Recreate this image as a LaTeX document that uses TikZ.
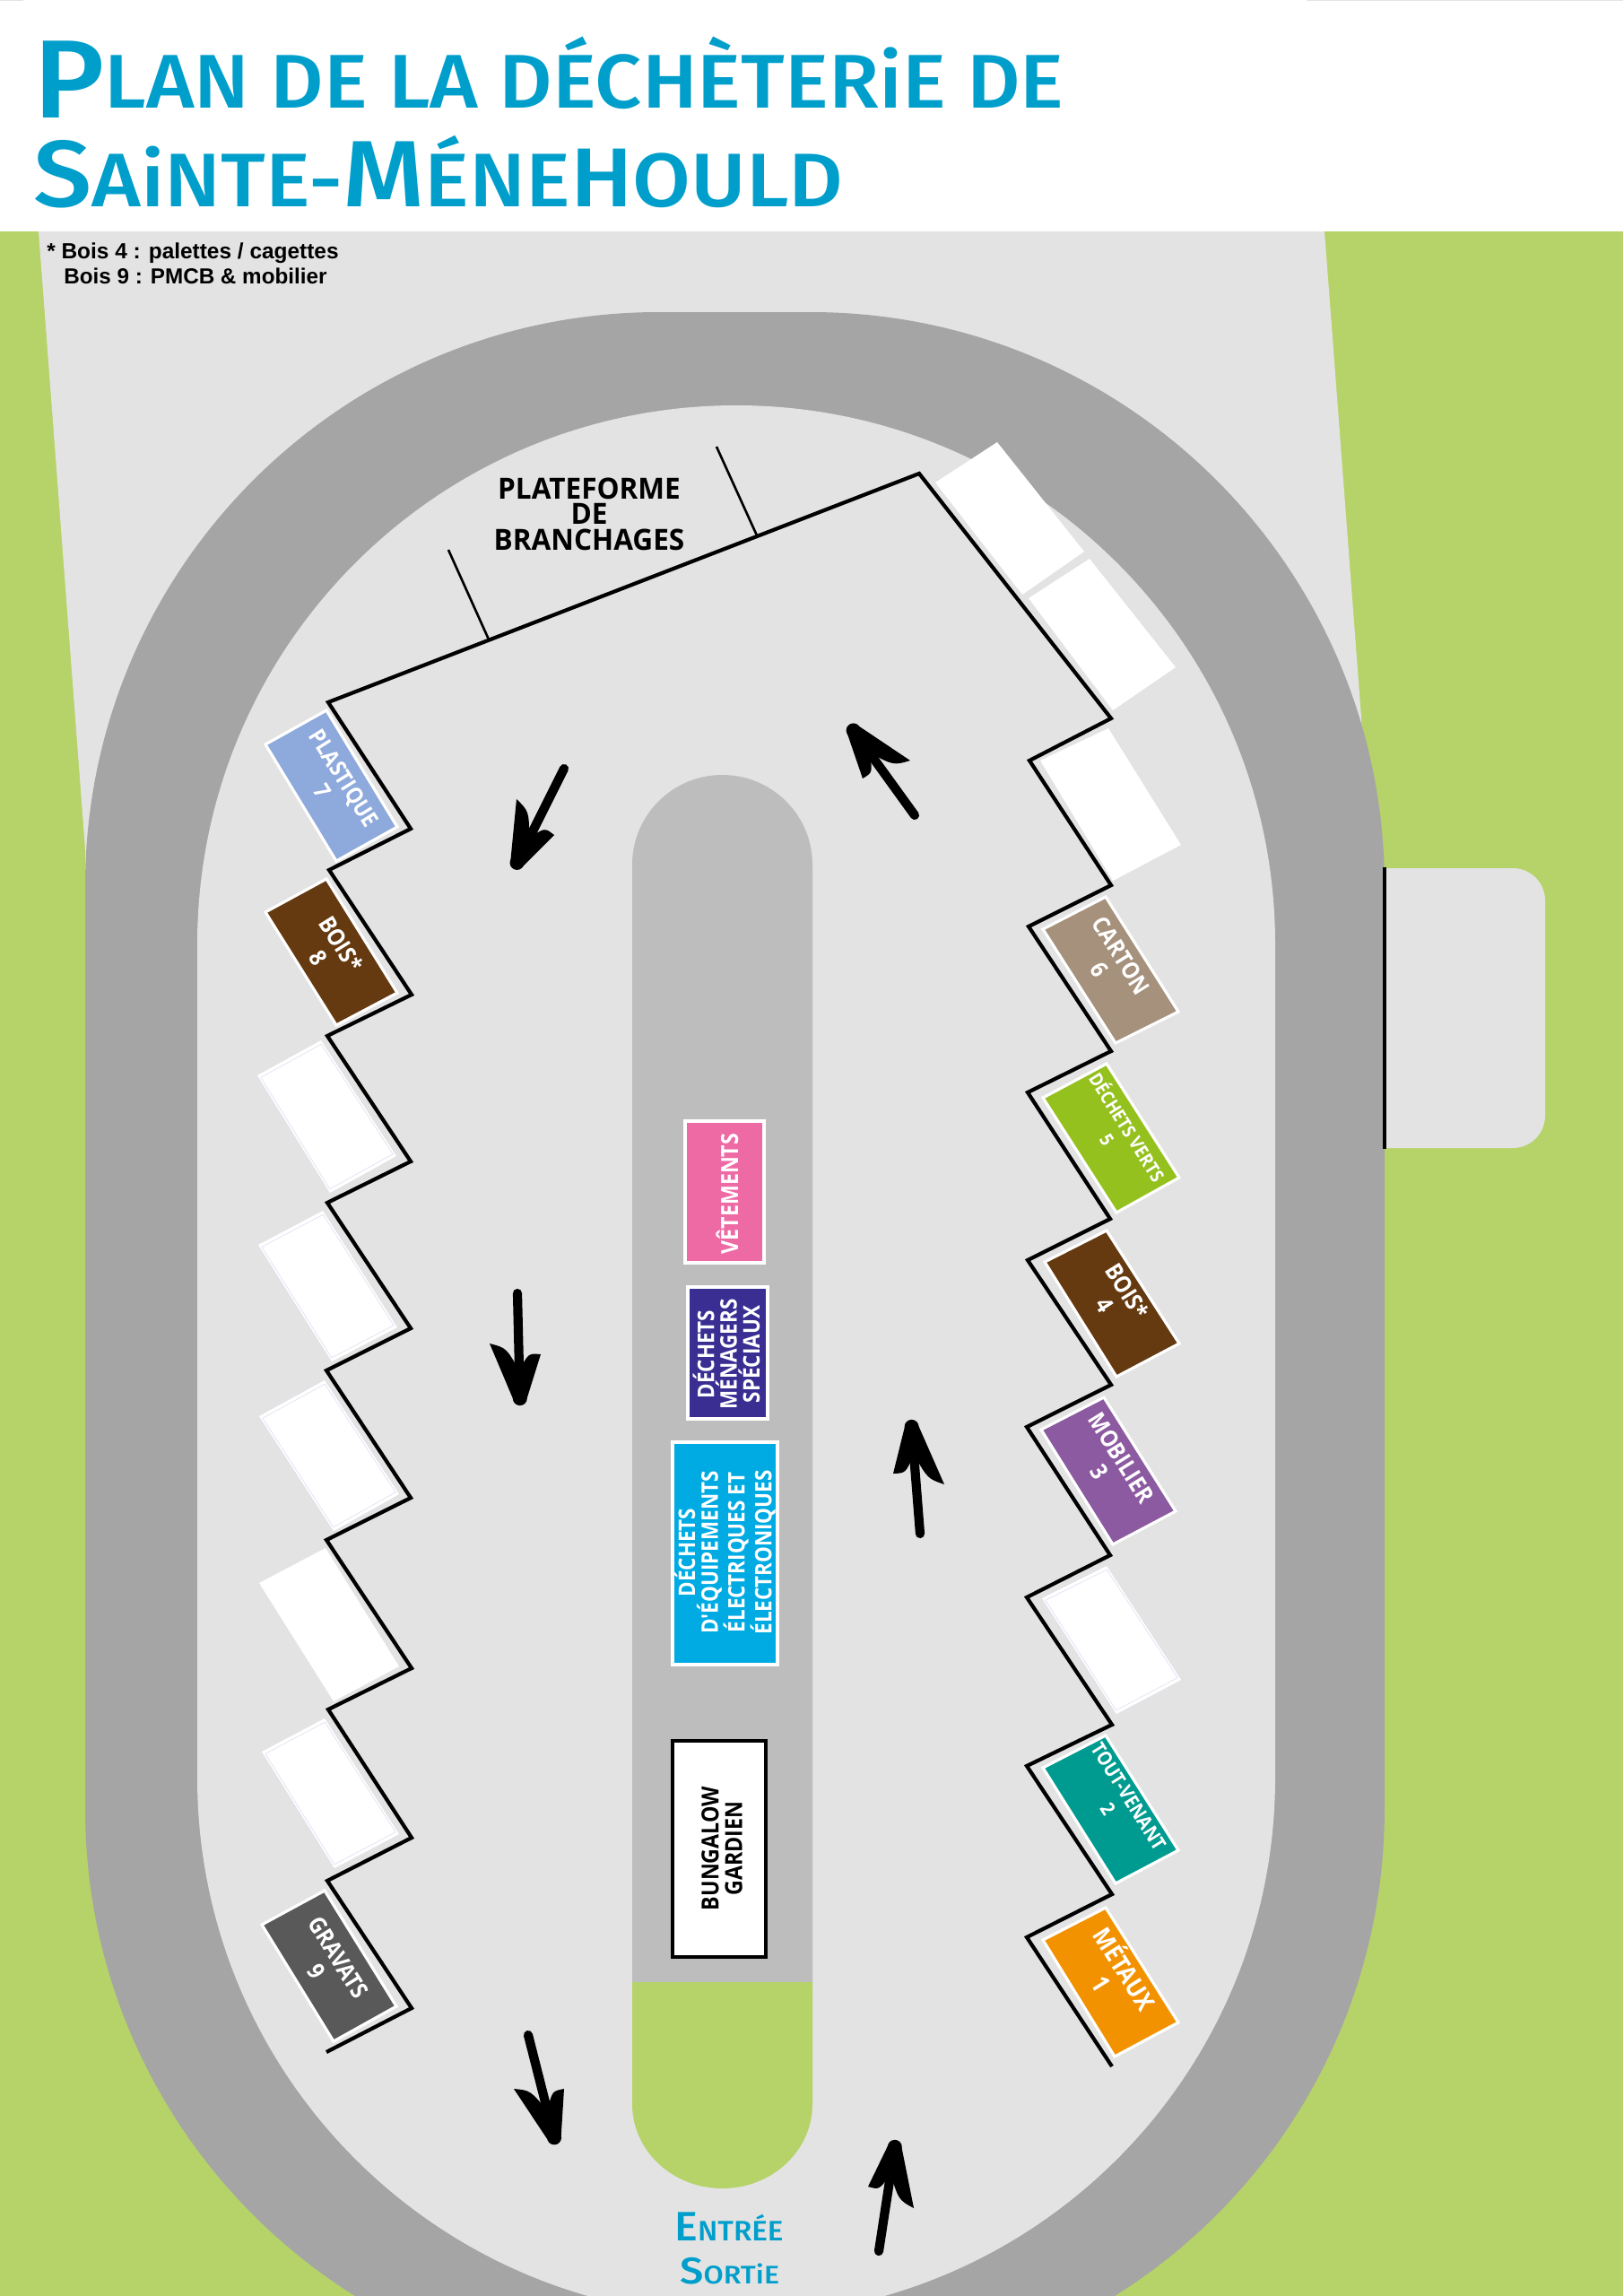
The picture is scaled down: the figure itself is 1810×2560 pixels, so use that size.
\documentclass[tikz,border=0pt]{standalone}
\usepackage{fontspec}
\usepackage{graphicx}
\usetikzlibrary{calc}
\setmainfont{Open Sans}
\newfontfamily\labfont[FakeStretch=0.88]{Open Sans}
\newfontfamily\platfont[FakeStretch=0.97]{Open Sans}
\newfontfamily\notefont{Liberation Sans}
\newfontfamily\titlefont[FakeStretch=0.7]{Fira Sans Medium}
\definecolor{grass}{HTML}{B6D369}
\definecolor{lightg}{HTML}{E3E3E3}
\definecolor{road}{HTML}{A5A5A5}
\definecolor{island}{HTML}{BDBDBD}
\definecolor{titleblue}{HTML}{009FCB}
\definecolor{cplast}{HTML}{8EA9DB}
\definecolor{cbois}{HTML}{663A10}
\definecolor{cgrav}{HTML}{595959}
\definecolor{ccart}{HTML}{A5917C}
\definecolor{cvert}{HTML}{95C11F}
\definecolor{cmob}{HTML}{8C5AA0}
\definecolor{cvenant}{HTML}{009B90}
\definecolor{cmet}{HTML}{F39200}
\definecolor{cvet}{HTML}{EE6AA5}
\definecolor{cdms}{HTML}{3A2E93}
\definecolor{cdeee}{HTML}{00ABE3}
\definecolor{faint}{HTML}{E4DFF5}
\tikzset{
  lab/.style={text=white,align=center,font=\labfont\bfseries\fontsize{#1}{#1}\selectfont,inner sep=0pt},
  rlab/.style={lab=#1,rotate=-58},
  vlab/.style={lab=#1,rotate=90},
  bay/.style={fill=#1,draw=white,line width=1.8pt,line join=miter},
  wall/.style={draw=black,line width=2.4pt,line join=miter},
  tick/.style={draw=black,line width=1.5pt},
  titletext/.style={text=titleblue,anchor=base west,inner sep=0pt,font=\titlefont},
}
\newcommand\smallT[1]{{\fontsize{50}{50}\selectfont #1}}
\newcommand\midT[1]{{\fontsize{55}{55}\selectfont #1}}
\newcommand\capT[1]{{\fontsize{62}{62}\selectfont #1}}
\newcommand\bigT[1]{{\fontsize{73}{73}\selectfont #1}}
\newcommand\blankbay[4]{%
  \fill[white] (#1) -- (#2) -- (#3) -- (#4) -- cycle;
  \draw[faint,line width=.4pt] ($(#1)!.025!(#3)$) -- ($(#2)!.025!(#4)$) -- ($(#3)!.025!(#1)$) -- ($(#4)!.025!(#2)$) -- cycle;
}
% tail, tip, barb on the arrow's right, barb on its left
\newcommand\harrow[4]{%
  \coordinate (Tl) at (#1); \coordinate (Ti) at (#2);
  \coordinate (Ba) at (#3); \coordinate (Bb) at (#4);
  \coordinate (Ce) at ($(Ti)!4.5pt!(Tl)$);
  \coordinate (Ne) at ($(Ti)!22pt!(Tl)$);
  \coordinate (Sa) at ($(Ce)!4.5pt!90:(Tl)$);
  \coordinate (Sb) at ($(Ce)!4.5pt!-90:(Tl)$);
  \draw[black,line width=5.8pt,line cap=round] (Tl) -- (Ne);
  \fill[black] (Sa) -- (Ba)
     .. controls ($($(Ba)!.5!(Ne)$)!6pt!(Tl)$) .. (Ne)
     .. controls ($($(Bb)!.5!(Ne)$)!6pt!(Tl)$) .. (Bb)
     -- (Sb) -- cycle;
  \fill[black] (Ce) circle[radius=.16cm];
}
\begin{document}
\begin{tikzpicture}[x=0.02cm,y=-0.02cm]
\useasboundingbox (0,0) rectangle (1810,2560);
\clip (0,0) rectangle (1810,2560);
% ground
\fill[grass] (0,0) rectangle (1810,2560);
\fill[lightg] (43,258) -- (1477,258) -- (1518,800) -- (1518,1100) -- (95,1100) -- (95,947) -- cycle;
\fill[lightg] (1544,968) [rounded corners=.72cm] -- (1723,968) -- (1723,1280) [sharp corners] -- (1544,1280) -- cycle;
% road and yard
\fill[road,rounded corners=12.8cm] (95,348) rectangle (1544,2657);
\fill[lightg,rounded corners=12.02cm] (220,452) rectangle (1422,2583);
% central island
\fill[island] (705,2212) -- (705,964) .. controls (705,909) and (750,864) .. (805.5,864) .. controls (861,864) and (906,909) .. (906,964) -- (906,2212) -- cycle;
\fill[grass] (705,2210) -- (906,2210) -- (906,2346) .. controls (906,2398) and (861,2440) .. (805.5,2440) .. controls (750,2440) and (705,2398) .. (705,2346) -- cycle;
% header
\fill[white] (0,0) rectangle (1810,258);
\fill[lightg] (1457,0) rectangle (1810,1);
\fill[lightg] (0,0) rectangle (26,1);
% bays, left
\draw[bay=cplast] (364,792) -- (296,830) -- (375,960) -- (443,922) -- cycle;
\draw[bay=cbois] (364,980) -- (296,1017) -- (375,1143) -- (443,1107) -- cycle;
\coordinate (a) at (358,1160); \coordinate (b) at (287,1199); \coordinate (c) at (368,1330); \coordinate (d) at (442,1289);
\blankbay{a}{b}{c}{d}
\coordinate (a) at (360,1350); \coordinate (b) at (288,1388); \coordinate (c) at (370,1518); \coordinate (d) at (443,1480);
\blankbay{a}{b}{c}{d}
\coordinate (a) at (362,1539); \coordinate (b) at (289,1579); \coordinate (c) at (372,1707); \coordinate (d) at (445,1666);
\blankbay{a}{b}{c}{d}
\fill[white] (363,1726) -- (289,1765) -- (372,1897) -- (445,1858) -- cycle;
\coordinate (a) at (362,1916); \coordinate (b) at (292,1953); \coordinate (c) at (373,2083); \coordinate (d) at (445,2045);
\blankbay{a}{b}{c}{d}
\draw[bay=cgrav] (362,2108) -- (292,2146) -- (372,2276) -- (442,2237) -- cycle;
% bays, right
\fill[white] (1112,493) -- (1043,538) -- (1140,663) -- (1209,615) -- cycle;
\fill[white] (1215,623) -- (1147,667) -- (1241,792) -- (1311,744) -- cycle;
\fill[white] (1236,812) -- (1160,848) -- (1241,982) -- (1317,942) -- cycle;
\draw[bay=ccart] (1233,1000) -- (1163,1036) -- (1244,1163) -- (1314,1128) -- cycle;
\draw[bay=cvert] (1234,1186) -- (1163,1224) -- (1245,1352) -- (1315,1313) -- cycle;
\draw[bay=cbois] (1234,1372) -- (1165,1407) -- (1245,1535) -- (1315,1498) -- cycle;
\draw[bay=cmob] (1231,1558) -- (1161,1594) -- (1241,1722) -- (1311,1685) -- cycle;
\coordinate (a) at (1234,1746); \coordinate (b) at (1162,1782); \coordinate (c) at (1245,1911); \coordinate (d) at (1317,1873);
\blankbay{a}{b}{c}{d}
\draw[bay=cvenant] (1233,1935) -- (1163,1971) -- (1244,2100) -- (1314,2063) -- cycle;
\draw[bay=cmet] (1233,2127) -- (1163,2163) -- (1243,2293) -- (1314,2255) -- cycle;
% wall
\draw[wall] (1240,2304) -- (1145,2160) -- (1240,2112) -- (1145,1969) -- (1240,1923) -- (1145,1781) -- (1238,1734) -- (1145,1591) -- (1239,1544) -- (1146,1405) -- (1238,1359) -- (1146,1218) -- (1239,1172) -- (1147,1033) -- (1239,987) -- (1148,848) -- (1239,801) -- (1025,528) -- (366,783) -- (458,924) -- (367,970) -- (459,1109) -- (365,1155) -- (458,1295) -- (365,1341) -- (458,1481) -- (364,1528) -- (458,1670) -- (364,1717) -- (459,1860) -- (366,1906) -- (459,2049) -- (365,2097) -- (459,2239) -- (364,2288);
\coordinate (t1a) at (500,613); \coordinate (t1b) at (545,713);
\coordinate (t2a) at (799,498); \coordinate (t2b) at (844,597);
\draw[tick] (t1a) -- (t1b);
\draw[tick] (t2a) -- (t2b);
\draw[black,line width=2.2pt] (1544,967) -- (1544,1281);
% central boxes
\draw[fill=cvet,draw=white,line width=1.8pt] (764,1250) rectangle (852,1408);
\draw[fill=cdms,draw=white,line width=1.8pt] (767,1435) rectangle (856,1582);
\draw[fill=cdeee,draw=white,line width=1.8pt] (750,1608) rectangle (867,1856);
\draw[fill=white,draw=black,line width=2pt] (750,1941) rectangle (854,2182);
% labels
\node[align=center,inner sep=0pt,font=\platfont\bfseries\fontsize{18.5}{18.5}\selectfont] (plat) at (657,573) {PLATEFORME\\[-2.2pt]DE\\[-2.2pt]BRANCHAGES};
\node[rlab=14.5] (plast) at (372,875) {PLASTIQUE\\[1.5pt]7};
\node[rlab=15] (bois8) at (368,1060) {BOIS*\\[1.5pt]8};
\node[rlab=15] (grav) at (365,2190) {GRAVATS\\[1.5pt]9};
\node[rlab=15] (cart) at (1238,1073) {CARTON\\[1.5pt]6};
\node[rlab=11.7] (vert) at (1247,1263) {DÉCHETS VERTS\\[3pt]5};
\node[rlab=15] (bois4) at (1245,1447) {BOIS*\\[1.5pt]4};
\node[rlab=15] (mob) at (1238,1633) {MOBILIER\\[1.5pt]3};
\node[rlab=12.5] (tout) at (1247,2010) {TOUT-VENANT\\[3pt]2};
\node[rlab=16] (met) at (1243,2202) {MÉTAUX\\[1.5pt]1};
\node[vlab=15] (vet) at (811,1331) {VÊTEMENTS};
\node[vlab=14.5] (dms) at (810,1510) {DÉCHETS\\MÉNAGERS\\SPÉCIAUX};
\node[vlab=14.5] (deee) at (808,1731) {DÉCHETS\\D'ÉQUIPEMENTS\\ÉLECTRIQUES ET\\ÉLECTRONIQUES};
\node[vlab=15,text=black] (bung) at (805,2061) {BUNGALOW\\GARDIEN};
% footnote
\node[anchor=base west,inner sep=0pt,font=\notefont\bfseries\fontsize{13.9}{14}\selectfont] (note1) at (52,288) {* Bois 4 : palettes / cagettes};
\node[anchor=base west,inner sep=0pt,font=\notefont\bfseries\fontsize{13.8}{14}\selectfont] (note2) at (71,316) {Bois 9 : PMCB \& mobilier};
% title
\node[titletext] (title1) at (37,120) {\resizebox*{654pt}{52pt}{\raisebox{-7pt}{\bigT{P}}\smallT{LAN DE LA DÉCHÈTERiE DE}}};
\node[titletext] (title2) at (37,230) {\resizebox*{514pt}{46pt}{\capT{S}\smallT{AiNTE-}\capT{M}\smallT{ÉNE}\midT{H}\smallT{OULD}}};
\node[titletext] (entree) at (752,2498) {\resizebox*{69pt}{18pt}{\bigT{E}\smallT{NTRÉE}}};
\node[titletext] (sortie) at (758,2546) {\resizebox*{63pt}{17pt}{\bigT{S}\smallT{ORTiE}}};
% arrows
\harrow{629,857}{573,969}{576,891}{618,931}
\harrow{1020,909}{947,808}{1015,848}{962,868}
\harrow{577,1442}{580,1567}{546,1498}{603,1510}
\harrow{1026,1710}{1016,1583}{1053,1655}{996,1643}
\harrow{589,2269}{620,2391}{573,2329}{629,2329}
\harrow{980,2510}{999,2386}{1019,2462}{968,2438}
\end{tikzpicture}
\end{document}
